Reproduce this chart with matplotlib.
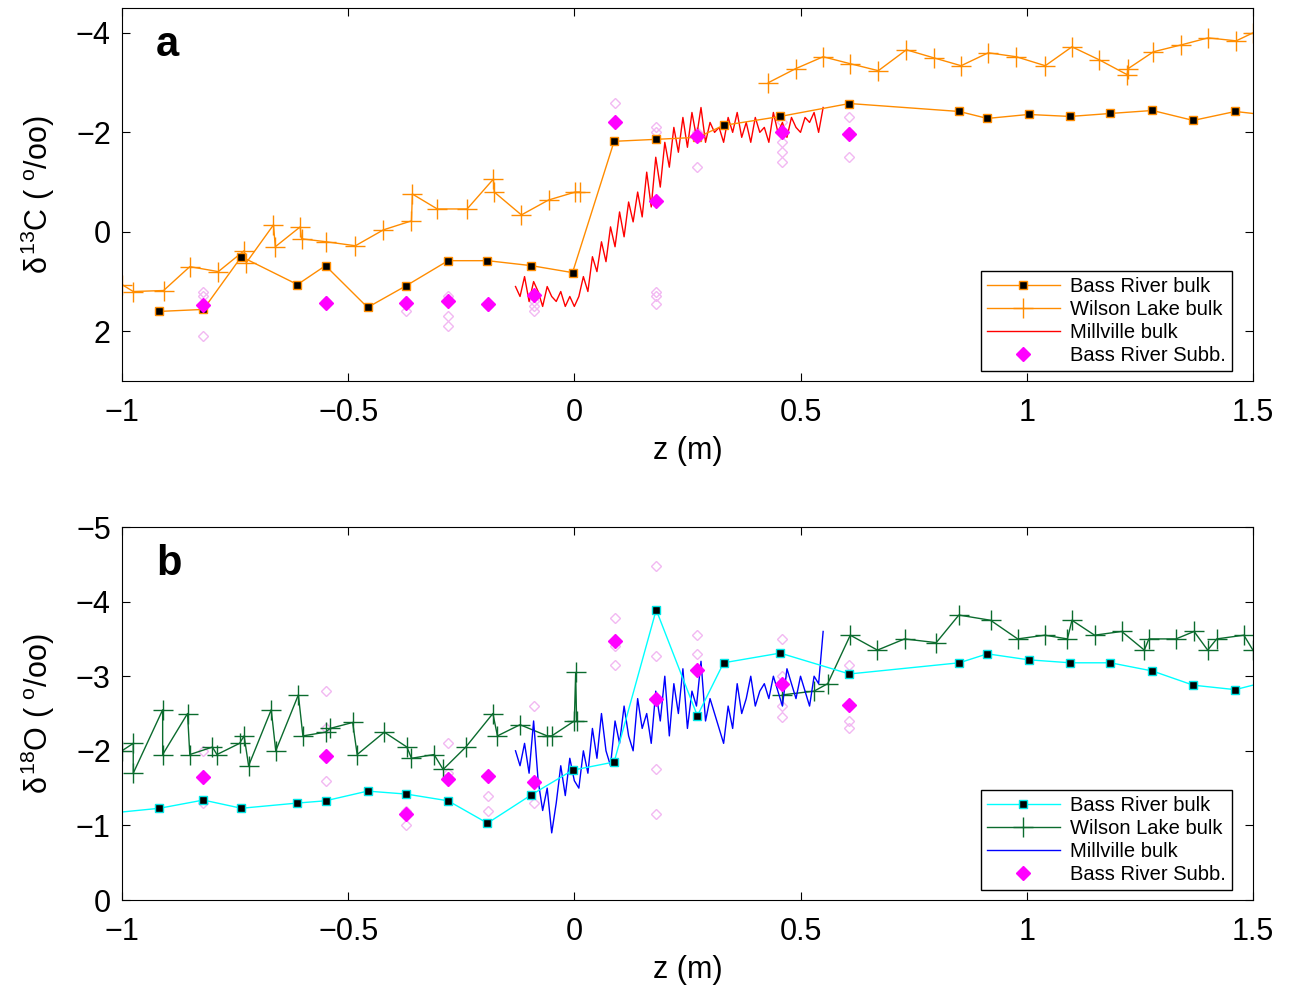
import numpy as np
import matplotlib.pyplot as plt

plt.rcParams['font.family'] = ['Liberation Sans', 'DejaVu Sans']
plt.rcParams['mathtext.fontset'] = 'custom'
plt.rcParams['mathtext.rm'] = 'Liberation Sans'
plt.rcParams['mathtext.it'] = 'Liberation Sans'

# ---- panel a: d13C ----
br_z = [-0.917, -0.82, -0.736, -0.612, -0.55, -0.457, -0.371, -0.279, -0.192, -0.095, -0.004,
        0.088, 0.181, 0.272, 0.33, 0.455, 0.608, 0.851, 0.913, 1.004, 1.096, 1.185, 1.278, 1.368, 1.461]
br_c = [1.6, 1.56, 0.5, 1.06, 0.68, 1.52, 1.08, 0.58, 0.58, 0.68, 0.82,
        -1.82, -1.86, -1.9, -2.14, -2.32, -2.58, -2.42, -2.28, -2.36, -2.32, -2.38, -2.44, -2.24, -2.42]
br_c_end = (1.5, -2.38)

wl_z1 = [-1.0, -0.975, -0.908, -0.85, -0.787, -0.73, -0.725, -0.665, -0.661, -0.606, -0.603,
         -0.548, -0.484, -0.422, -0.36, -0.358, -0.303, -0.237, -0.179, -0.177, -0.117, -0.057, 0.002, 0.012]
wl_c1 = [1.06, 1.2, 1.18, 0.7, 0.8, 0.38, 0.62, -0.14, 0.3, -0.1, 0.14,
         0.2, 0.28, -0.04, -0.22, -0.76, -0.46, -0.46, -1.06, -0.8, -0.34, -0.64, -0.8, -0.8]
wl_z2 = [0.429, 0.489, 0.55, 0.61, 0.672, 0.734, 0.794, 0.855, 0.915, 0.977, 1.041, 1.1,
         1.16, 1.222, 1.224, 1.28, 1.342, 1.401, 1.463, 1.5]
wl_c2 = [-3.0, -3.28, -3.52, -3.38, -3.24, -3.66, -3.5, -3.34, -3.6, -3.52, -3.34, -3.72,
         -3.46, -3.16, -3.28, -3.62, -3.76, -3.9, -3.84, -4.0]

mv_c = [1.1, 1.3, 0.9, 1.4, 1.0, 1.2, 1.5, 1.1, 1.3, 1.4, 1.2, 1.5, 1.3, 1.5,
        1.3, 0.9, 1.2, 0.5, 0.8, 0.2, 0.6, -0.1, 0.3, -0.4, 0.1, -0.6, -0.2, -0.8, -0.3, -1.2,
        -0.5, -1.5, -0.9, -1.8, -1.3, -2.1, -1.6, -2.3, -1.7, -2.4, -1.9, -2.5, -1.8, -2.2, -2.0,
        -2.1, -1.8, -2.3, -2.0, -2.4, -1.9, -2.2, -1.8, -2.3, -2.0, -2.1, -1.8, -2.4, -2.0,
        -2.2, -1.9, -2.3, -2.1, -2.0, -2.3, -2.2, -2.4, -2.0, -2.5]

sub_z = [-0.82, -0.55, -0.371, -0.279, -0.19, -0.09, 0.09, 0.181, 0.272, 0.46, 0.608]
sub_c = [1.48, 1.44, 1.44, 1.4, 1.46, 1.28, -2.2, -0.62, -1.92, -2.0, -1.96]
rep_c = [[1.2, 1.3, 2.1], [1.4], [1.6, 1.4], [1.7, 1.9, 1.3], [1.5], [1.4, 1.6, 1.5],
         [-2.6, -2.2], [-2.1, -2.0, 1.2, 1.3, 1.45], [-2.0, -1.3], [-1.4, -1.6, -1.8, -2.2],
         [-2.3, -1.5, -2.0]]

# ---- panel b: d18O ----
br_o = [-1.23, -1.34, -1.23, -1.3, -1.33, -1.46, -1.42, -1.33, -1.03, -1.41, -1.74,
        -1.85, -3.89, -2.47, -3.18, -3.31, -3.03, -3.18, -3.3, -3.22, -3.18, -3.18, -3.07, -2.88, -2.82]
br_o_start = (-1.0, -1.18)
br_o_end = (1.5, -2.88)

wlo_z1 = [-1.0, -0.975, -0.975, -0.91, -0.91, -0.855, -0.85, -0.8, -0.79, -0.74, -0.73, -0.72,
          -0.67, -0.66, -0.61, -0.6, -0.55, -0.54, -0.49, -0.48, -0.42, -0.37, -0.36, -0.31,
          -0.29, -0.24, -0.18, -0.17, -0.12, -0.06, -0.05, 0.0, 0.003, 0.005]
wlo_o1 = [-2.0, -2.1, -1.7, -2.55, -1.95, -2.5, -1.95, -2.05, -1.95, -2.1, -2.2, -1.8,
          -2.55, -2.0, -2.75, -2.2, -2.25, -2.3, -2.38, -1.95, -2.25, -2.05, -1.9, -1.95,
          -1.75, -2.05, -2.5, -2.2, -2.35, -2.2, -2.2, -2.4, -3.05, -2.4]
wlo_z2 = [0.46, 0.53, 0.56, 0.61, 0.67, 0.73, 0.8, 0.85, 0.92, 0.98, 1.04, 1.09, 1.1, 1.15,
          1.21, 1.26, 1.27, 1.33, 1.37, 1.4, 1.42, 1.48, 1.5]
wlo_o2 = [-2.75, -2.8, -2.9, -3.55, -3.35, -3.5, -3.45, -3.82, -3.75, -3.5, -3.55, -3.5, -3.75,
          -3.55, -3.6, -3.35, -3.5, -3.5, -3.6, -3.35, -3.5, -3.55, -3.35]

mv_o = [-2.0, -1.8, -2.1, -1.7, -2.4, -1.6, -1.2, -1.5, -0.9, -1.3, -1.8, -1.4, -1.9, -1.6,
        -1.5, -2.0, -1.7, -2.3, -1.9, -2.5, -2.0, -1.8, -2.4, -2.1, -2.6, -2.2, -2.0, -2.7, -2.3, -2.5,
        -2.1, -2.8, -2.4, -3.0, -2.2, -2.9, -2.5, -3.1, -2.3, -2.8, -2.6, -3.2, -2.4, -2.7, -2.5,
        -2.3, -2.1, -2.6, -2.3, -2.9, -2.5, -2.7, -3.0, -2.6, -2.8, -2.9, -2.7, -3.0, -2.8,
        -2.6, -3.1, -2.9, -2.7, -3.0, -2.8, -2.6, -3.0, -2.9, -3.6]

sub_o = [-1.65, -1.93, -1.15, -1.62, -1.66, -1.58, -3.47, -2.7, -3.08, -2.9, -2.62]
rep_o = [[-2.0, -1.3], [-2.8, -1.6, -2.3], [-1.0, -1.2], [-2.1, -1.7], [-1.4, -1.2],
         [-2.6, -1.3], [-3.78, -3.4, -3.15], [-4.48, -3.27, -1.75, -1.15], [-3.55, -3.3, -3.1],
         [-3.5, -3.0, -2.6, -2.45], [-3.15, -2.4, -2.3]]

mv_z = np.linspace(-0.13, 0.55, len(mv_c))

fig = plt.figure(figsize=(12.89, 9.91), dpi=100)
ax1 = fig.add_axes([0.0946, 0.6155, 0.8774, 0.3764])
ax2 = fig.add_axes([0.0946, 0.0918, 0.8774, 0.3764])

orange = '#ff8c00'
green = '#0b6b2e'


def replicates(ax, vals):
    for z, rs in zip(sub_z, vals):
        ax.plot([z] * len(rs), rs, 'D', ms=5, mfc='none', mec='#f2b8f2', mew=1, zorder=1)


# panel a
replicates(ax1, rep_c)
ax1.plot(br_z[-1:] + [br_c_end[0]], br_c[-1:] + [br_c_end[1]], '-', color=orange, lw=1, zorder=2)
ax1.plot(br_z, br_c, '-s', color=orange, lw=1, ms=6, mfc='k', mec=orange, mew=1, zorder=3,
         label='Bass River bulk')
ax1.plot(wl_z1, wl_c1, '-+', color=orange, ms=14, lw=1, label='Wilson Lake bulk')
ax1.plot(wl_z2, wl_c2, '-+', color=orange, ms=14, lw=1)
ax1.plot(mv_z, mv_c, '-', color='#ff0000', lw=1, label='Millville bulk')
ax1.plot(sub_z, sub_c, 'D', ms=7, color='#ff00ff', lw=0, zorder=4, label='Bass River Subb.')
ax1.set_ylim(3, -4.5)
ax1.set_yticks([2, 0, -2, -4])
ax1.set_yticklabels(['2', '0', '\u22122', '\u22124'])
ax1.set_ylabel(r'$\delta^{13}$C ( $^{\rm o}$/oo)', fontsize=22, labelpad=14)
ax1.text(0.03, 0.9, 'a', transform=ax1.transAxes, fontsize=30, fontweight='bold', va='center')

# panel b
replicates(ax2, rep_o)
ax2.plot([br_o_start[0], br_z[0]], [br_o_start[1], br_o[0]], '-', color='#00ffff', lw=1, zorder=2)
ax2.plot(br_z[-1:] + [br_o_end[0]], br_o[-1:] + [br_o_end[1]], '-', color='#00ffff', lw=1, zorder=2)
ax2.plot(br_z, br_o, '-s', color='#00ffff', lw=1, ms=6, mfc='k', mec='#00e5e5', mew=1, zorder=3,
         label='Bass River bulk')
ax2.plot(wlo_z1, wlo_o1, '-+', color=green, ms=14, lw=1, label='Wilson Lake bulk')
ax2.plot(wlo_z2, wlo_o2, '-+', color=green, ms=14, lw=1)
ax2.plot(mv_z, mv_o, '-', color='#0000ff', lw=1, label='Millville bulk')
ax2.plot(sub_z, sub_o, 'D', ms=7, color='#ff00ff', lw=0, zorder=4, label='Bass River Subb.')
ax2.set_ylim(0, -5)
ax2.set_yticks([0, -1, -2, -3, -4, -5])
ax2.set_yticklabels(['0', '\u22121', '\u22122', '\u22123', '\u22124', '\u22125'])
ax2.set_ylabel(r'$\delta^{18}$O ( $^{\rm o}$/oo)', fontsize=22, labelpad=14)
ax2.text(0.03, 0.9, 'b', transform=ax2.transAxes, fontsize=30, fontweight='bold', va='center')

for ax in (ax1, ax2):
    ax.set_xlim(-1, 1.5)
    ax.set_xticks([-1, -0.5, 0, 0.5, 1, 1.5])
    ax.set_xticklabels(['\u22121', '\u22120.5', '0', '0.5', '1', '1.5'])
    ax.set_xlabel('z (m)', fontsize=22, labelpad=6)
    ax.tick_params(direction='in', labelsize=22, length=6, top=True, right=True)
    ax.tick_params(axis='x', pad=12)
    ax.tick_params(axis='y', pad=8)
    leg = ax.legend(loc='lower right', bbox_to_anchor=(0.99, 0.0), fontsize=14.5,
                    fancybox=False, edgecolor='k', framealpha=1, handlelength=3.6,
                    borderpad=0.3, labelspacing=0.2, handletextpad=0.5)
    leg.get_frame().set_linewidth(1)

fig.savefig('out.png', dpi=100)
